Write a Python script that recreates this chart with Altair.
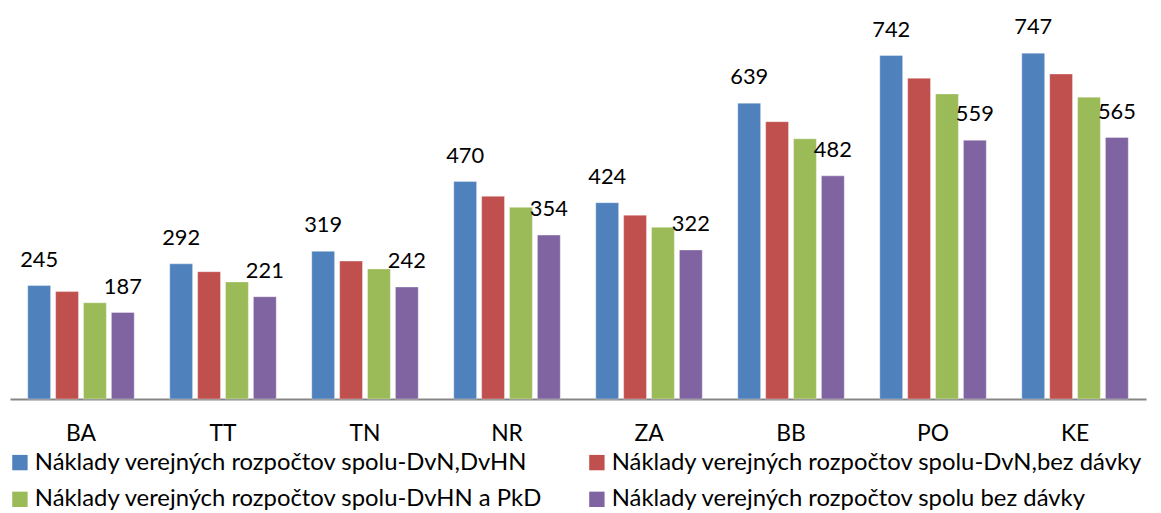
import altair as alt
import pandas as pd

regions = ["BA", "TT", "TN", "NR", "ZA", "BB", "PO", "KE"]
series = [
    "Náklady verejných rozpočtov spolu-DvN,DvHN",
    "Náklady verejných rozpočtov spolu-DvN,bez dávky",
    "Náklady verejných rozpočtov spolu-DvHN a PkD",
    "Náklady verejných rozpočtov spolu bez dávky",
]
colors = ["#4F81BD", "#C0504D", "#9BBB59", "#8064A2"]

v_dvn_dvhn = [245, 292, 319, 470, 424, 639, 742, 747]
v_dvn_bez = [232, 275, 298, 438, 397, 599, 693, 702]
v_dvhn_pkd = [208, 253, 281, 414, 371, 562, 659, 652]
v_bez = [187, 221, 242, 354, 322, 482, 559, 565]
labeled = [True, False, False, True]

rows = []
for s, vals, lab in zip(series, [v_dvn_dvhn, v_dvn_bez, v_dvhn_pkd, v_bez], labeled):
    for r, v in zip(regions, vals):
        rows.append({"region": r, "series": s, "value": v, "label": str(v) if lab else ""})
df = pd.DataFrame(rows)

FONT = "Lato"

x = alt.X("region:N", sort=regions, title=None,
          scale=alt.Scale(paddingInner=0.25, paddingOuter=0.125),
          axis=alt.Axis(labelAngle=0, labelFontSize=23, labelFont=FONT, labelColor="#000000",
                        ticks=False, domainColor="#868686", domainWidth=2, labelPadding=24))
xo = alt.XOffset("series:N", sort=series, scale=alt.Scale(paddingInner=0.18))
y = alt.Y("value:Q", scale=alt.Scale(domain=[0, 800]), axis=None)

bars = alt.Chart(df).mark_bar(stroke="white", strokeWidth=0.6, strokeOpacity=0.6).encode(
    x=x, xOffset=xo, y=y,
    color=alt.Color("series:N", sort=series,
                    scale=alt.Scale(domain=series, range=colors),
                    legend=alt.Legend(title=None, orient="none", legendX=-2, legendY=425,
                                      padding=0,
                                      columns=2, direction="horizontal",
                                      symbolType="square", symbolSize=240, symbolStrokeWidth=0,
                                      labelFontSize=24, labelFont=FONT, labelColor="#000000",
                                      labelLimit=800, columnPadding=42, rowPadding=13,
                                      labelOffset=3)),
)

text = alt.Chart(df).transform_filter("datum.label != ''").mark_text(
    fontSize=22, font=FONT, color="#000000", baseline="middle", dy=-26
).encode(x=x, xOffset=xo, y=y, text="label:N")

chart = alt.layer(bars, text).properties(
    width=1144, height=373,
    autosize=alt.AutoSizeParams(type="none"),
    padding={"left": 2, "top": 19, "right": 7, "bottom": 113},
).configure_view(stroke=None)

chart.save("out.html", embed_options={"renderer": "svg", "actions": False})
